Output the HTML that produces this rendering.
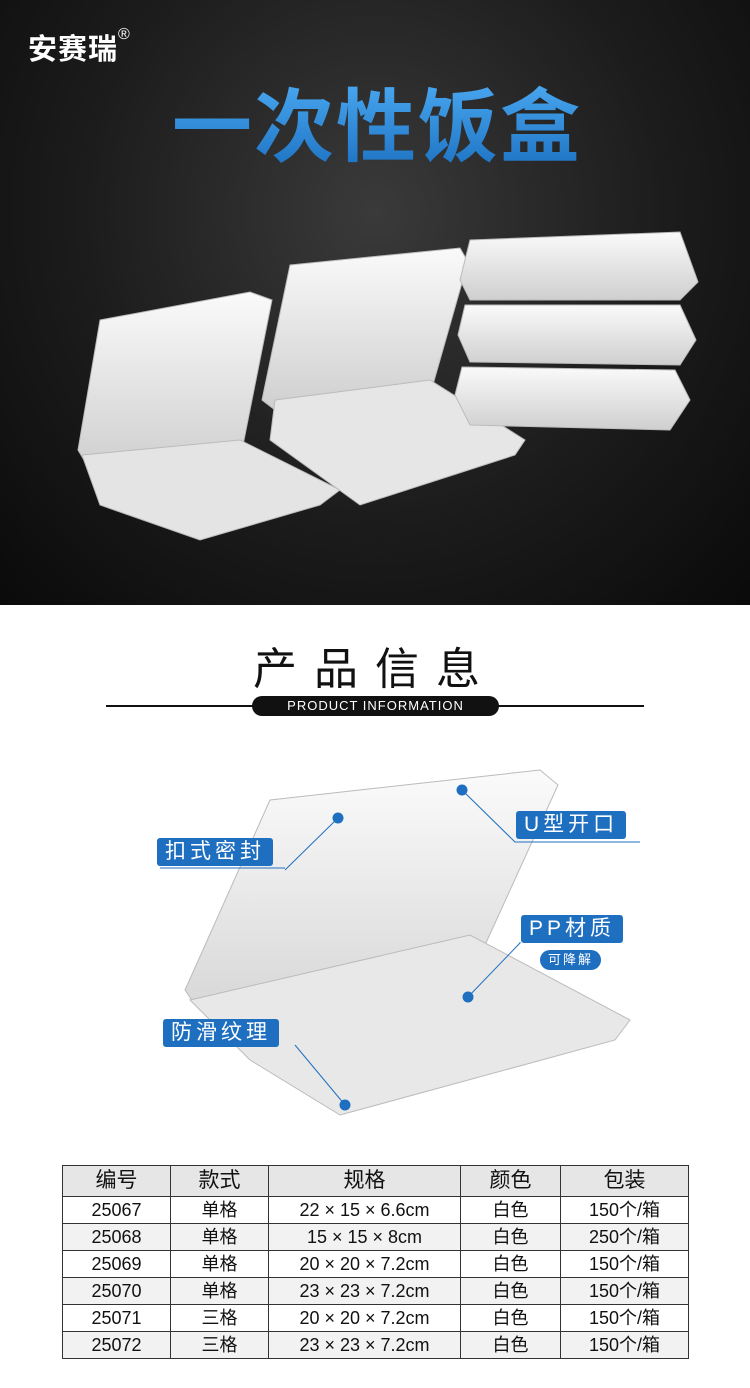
<!DOCTYPE html>
<html><head><meta charset="utf-8"><style>
*{margin:0;padding:0;box-sizing:border-box}
body{width:750px;height:1388px;background:#fff;font-family:"Liberation Sans","Noto Sans CJK SC",sans-serif;position:relative;overflow:hidden}
.top{position:absolute;left:0;top:0;width:750px;height:605px;background:radial-gradient(ellipse at 50% 35%,#3a3a3a 0%,#1c1c1c 55%,#0a0a0a 100%)}
.abs{position:absolute}
.tag{position:absolute;background:#1f6fc0;color:#fff;font-size:21px;letter-spacing:4px;padding:0 8px;height:28px;line-height:28px;border-radius:3px;white-space:nowrap}
table{position:absolute;left:62px;top:1165px;width:627px;border-collapse:collapse;font-size:18px;color:#111}
td{border:1px solid #333;text-align:center;height:27px;padding:0;line-height:26px}
tr.h td{background:#e6e6e6;height:31px;font-size:21px}
tr.g td{background:#f2f2f2}
</style></head><body>
<div class="top"></div>
<div class="abs" style="left:28px;top:26px;color:#fff;font-size:29px;font-weight:bold;letter-spacing:1px">安赛瑞<span style="font-size:16px;vertical-align:top;font-weight:normal">®</span></div>
<div class="abs" style="left:172px;top:80px;font-size:80px;font-weight:bold;letter-spacing:2px;line-height:96px;background:linear-gradient(#4aa8f0,#1a6fc0);-webkit-background-clip:text;color:transparent">一次性饭盒</div>
<svg class="abs" style="left:0;top:0" width="750" height="605">
<defs><linearGradient id="w" x1="0" y1="0" x2="0" y2="1"><stop offset="0" stop-color="#fafafa"/><stop offset="1" stop-color="#cfcfcf"/></linearGradient></defs>
<path d="M100 320 L250 292 L272 300 L240 460 L90 470 L78 450 Z" fill="url(#w)" stroke="#bbb"/>
<path d="M82 455 L240 440 L340 490 L320 505 L200 540 L100 505 Z" fill="#e4e4e4" stroke="#bbb"/>
<path d="M290 265 L460 248 L468 262 L430 395 L275 410 L262 400 Z" fill="url(#w)" stroke="#bbb"/>
<path d="M275 400 L430 380 L525 440 L515 455 L360 505 L270 440 Z" fill="#e6e6e6" stroke="#bbb"/>
<path d="M470 240 L680 232 L698 282 L680 300 L470 300 L460 280 Z" fill="url(#w)" stroke="#bbb"/>
<path d="M465 305 L680 305 L696 340 L680 365 L470 362 L458 335 Z" fill="url(#w)" stroke="#bbb"/>
<path d="M462 367 L675 370 L690 400 L670 430 L470 425 L455 395 Z" fill="url(#w)" stroke="#bbb"/>
</svg>
<div class="abs" style="left:0;top:645px;width:750px;text-align:center;font-size:44px;letter-spacing:17px;color:#111;line-height:50px">产品信息</div>
<div class="abs" style="left:106px;top:705px;width:538px;height:2px;background:#111"></div>
<div class="abs" style="left:252px;top:696px;width:247px;height:20px;background:#111;border-radius:10px;color:#fff;font-size:13px;letter-spacing:1px;text-align:center;line-height:20px">PRODUCT INFORMATION</div>
<svg class="abs" style="left:0;top:740px" width="750" height="390">
<defs><linearGradient id="w2" x1="0" y1="0" x2="0" y2="1"><stop offset="0" stop-color="#fbfbfb"/><stop offset="1" stop-color="#d8d8d8"/></linearGradient></defs>
<path d="M270 60 L540 30 L558 45 L485 205 L195 265 L185 250 Z" fill="url(#w2)" stroke="#bbb"/>
<path d="M190 260 L470 195 L630 280 L615 300 L340 375 L250 320 Z" fill="#e8e8e8" stroke="#bbb"/>
<g stroke="#1f6fc0" stroke-width="1" fill="#1f6fc0">
<line x1="338" y1="78" x2="285" y2="130"/><circle cx="338" cy="78" r="5"/>
<polyline points="462,50 515,102 640,102" fill="none"/><circle cx="462" cy="50" r="5"/>
<polyline points="468,257 520,203 520,202" fill="none"/><circle cx="468" cy="257" r="5"/>
<line x1="345" y1="365" x2="295" y2="305"/><circle cx="345" cy="365" r="5"/>
<line x1="160" y1="128" x2="285" y2="128"/>
</g></svg>
<div class="tag" style="left:157px;top:838px">扣式密封</div>
<div class="tag" style="left:516px;top:811px">U型开口</div>
<div class="tag" style="left:521px;top:915px">PP材质</div>
<div class="tag" style="left:540px;top:950px;height:20px;line-height:20px;font-size:13px;letter-spacing:2px;border-radius:10px">可降解</div>
<div class="tag" style="left:163px;top:1019px">防滑纹理</div>
<table>
<tr class="h"><td style="width:108px">编号</td><td style="width:98px">款式</td><td style="width:192px">规格</td><td style="width:100px">颜色</td><td>包装</td></tr>
<tr><td>25067</td><td>单格</td><td>22 × 15 × 6.6cm</td><td>白色</td><td>150个/箱</td></tr>
<tr class="g"><td>25068</td><td>单格</td><td>15 × 15 × 8cm</td><td>白色</td><td>250个/箱</td></tr>
<tr><td>25069</td><td>单格</td><td>20 × 20 × 7.2cm</td><td>白色</td><td>150个/箱</td></tr>
<tr class="g"><td>25070</td><td>单格</td><td>23 × 23 × 7.2cm</td><td>白色</td><td>150个/箱</td></tr>
<tr><td>25071</td><td>三格</td><td>20 × 20 × 7.2cm</td><td>白色</td><td>150个/箱</td></tr>
<tr class="g"><td>25072</td><td>三格</td><td>23 × 23 × 7.2cm</td><td>白色</td><td>150个/箱</td></tr>
</table>
</body></html>
